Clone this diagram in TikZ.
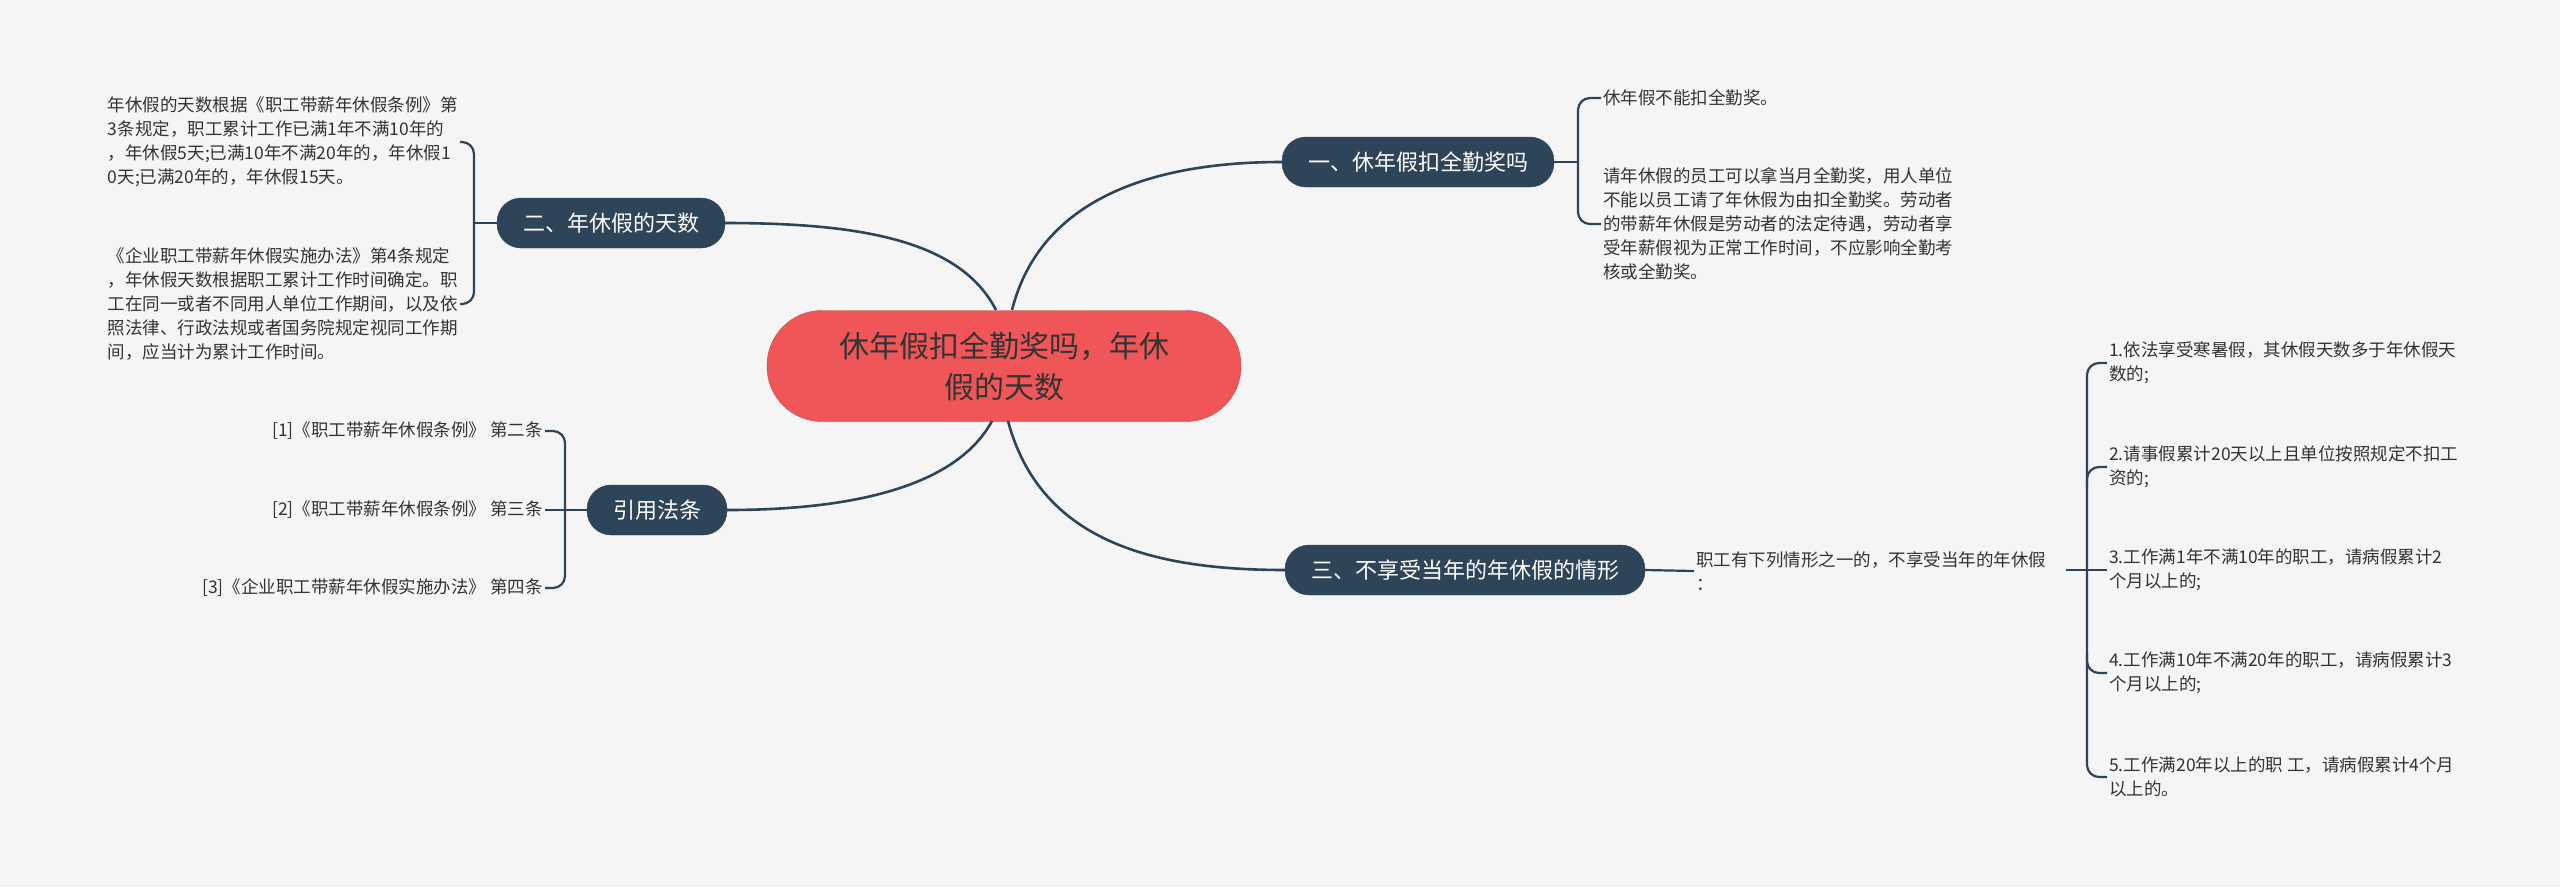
\documentclass[tikz,border=0pt]{standalone}
\usepackage{fontspec}
\setmainfont{Noto Sans CJK SC}
\definecolor{bg}{HTML}{F5F5F5}
\definecolor{navy}{HTML}{2E4459}
\definecolor{rootred}{HTML}{F05557}
\definecolor{txt}{HTML}{333333}
\begin{document}
\begin{tikzpicture}[x=1pt,y=-1pt,
  branch/.style={draw=navy,fill=navy,text=white,rounded corners=24pt,font=\fontsize{22}{28}\selectfont,minimum height=50pt,inner xsep=26pt},
  leaf/.style={text=txt,font=\fontsize{17.5}{24}\selectfont,inner sep=2pt},
  conn/.style={draw=navy,line width=2.6pt},
  brace/.style={draw=navy,line width=2.2pt,rounded corners=12pt}]
\fill[bg] (0,0) rectangle (2560,887);
\useasboundingbox (0,0) rectangle (2560,887);

\node[fill=rootred,draw=rootred!80!black,rounded corners=55pt,minimum width=474pt,minimum height=111pt,align=center,text=black!80,font=\fontsize{30}{41}\selectfont] (root) at (1004,366) {休年假扣全勤奖吗，年休\\假的天数};

\node[branch] (b1) at (1418,162) {一、休年假扣全勤奖吗};
\node[branch] (b2) at (611,223) {二、年休假的天数};
\node[branch] (b3) at (657,510) {引用法条};
\node[branch] (b4) at (1465,570) {三、不享受当年的年休假的情形};

\draw[conn] (1012,310) .. controls (1040,200) and (1150,162) .. (b1.west);
\draw[conn] (996,310) .. controls (960,240) and (860,223) .. (b2.east);
\draw[conn] (992,421) .. controls (960,480) and (870,510) .. (b3.east);
\draw[conn] (1008,421) .. controls (1040,540) and (1150,570) .. (b4.west);

% branch 1 leaves
\node[leaf,anchor=west,align=left] (l11) at (1601,98) {休年假不能扣全勤奖。};
\node[leaf,anchor=west,align=left] (l12) at (1601,224) {请年休假的员工可以拿当月全勤奖，用人单位\\不能以员工请了年休假为由扣全勤奖。劳动者\\的带薪年休假是劳动者的法定待遇，劳动者享\\受年薪假视为正常工作时间，不应影响全勤考\\核或全勤奖。};
\coordinate (j1) at (1578,162);
\draw[brace] (b1.east) -- (j1);
\draw[brace] (l11.west) -| (j1) |- (l12.west);

% branch 2 leaves
\node[leaf,anchor=east,align=left] (l21) at (460,142) {年休假的天数根据《职工带薪年休假条例》第\\3条规定，职工累计工作已满1年不满10年的\\，年休假5天;已满10年不满20年的，年休假1\\0天;已满20年的，年休假15天。};
\node[leaf,anchor=east,align=left] (l22) at (460,304) {《企业职工带薪年休假实施办法》第4条规定\\，年休假天数根据职工累计工作时间确定。职\\工在同一或者不同用人单位工作期间，以及依\\照法律、行政法规或者国务院规定视同工作期\\间，应当计为累计工作时间。};
\coordinate (j2) at (474,223);
\draw[brace] (b2.west) -- (j2);
\draw[brace] (l21.east) -| (j2) |- (l22.east);

% cited laws
\node[leaf,anchor=east] (l31) at (545,431) {[1]《职工带薪年休假条例》 第二条};
\node[leaf,anchor=east] (l32) at (545,510) {[2]《职工带薪年休假条例》 第三条};
\node[leaf,anchor=east] (l33) at (545,588) {[3]《企业职工带薪年休假实施办法》 第四条};
\coordinate (j3) at (565,510);
\draw[brace] (b3.west) -- (l32.east);
\draw[brace] (l31.east) -| (j3) |- (l33.east);

% branch 3
\node[leaf,anchor=west,align=left] (l40) at (1694,571) {职工有下列情形之一的，不享受当年的年休假\\：};
\coordinate (j4a) at (1680,571);
\draw[brace] (b4.east) -- (l40.west |- j4a);
\node[leaf,anchor=west,align=left] (l41) at (2107,363) {1.依法享受寒暑假，其休假天数多于年休假天\\数的;};
\node[leaf,anchor=west,align=left] (l42) at (2107,467) {2.请事假累计20天以上且单位按照规定不扣工\\资的;};
\node[leaf,anchor=west,align=left] (l43) at (2107,570) {3.工作满1年不满10年的职工，请病假累计2\\个月以上的;};
\node[leaf,anchor=west,align=left] (l44) at (2107,673) {4.工作满10年不满20年的职工，请病假累计3\\个月以上的;};
\node[leaf,anchor=west,align=left] (l45) at (2107,777) {5.工作满20年以上的职 工，请病假累计4个月\\以上的。};
\coordinate (j4) at (2087,570);
\draw[brace] (2066,570) -- (l43.west);
\draw[brace] (l41.west) -| (j4) |- (l45.west);
\draw[brace] (l42.west) -- ++(-20,0) -- ++(0,20);
\draw[brace] (l44.west) -- ++(-20,0) -- ++(0,-20);
\end{tikzpicture}
\end{document}
